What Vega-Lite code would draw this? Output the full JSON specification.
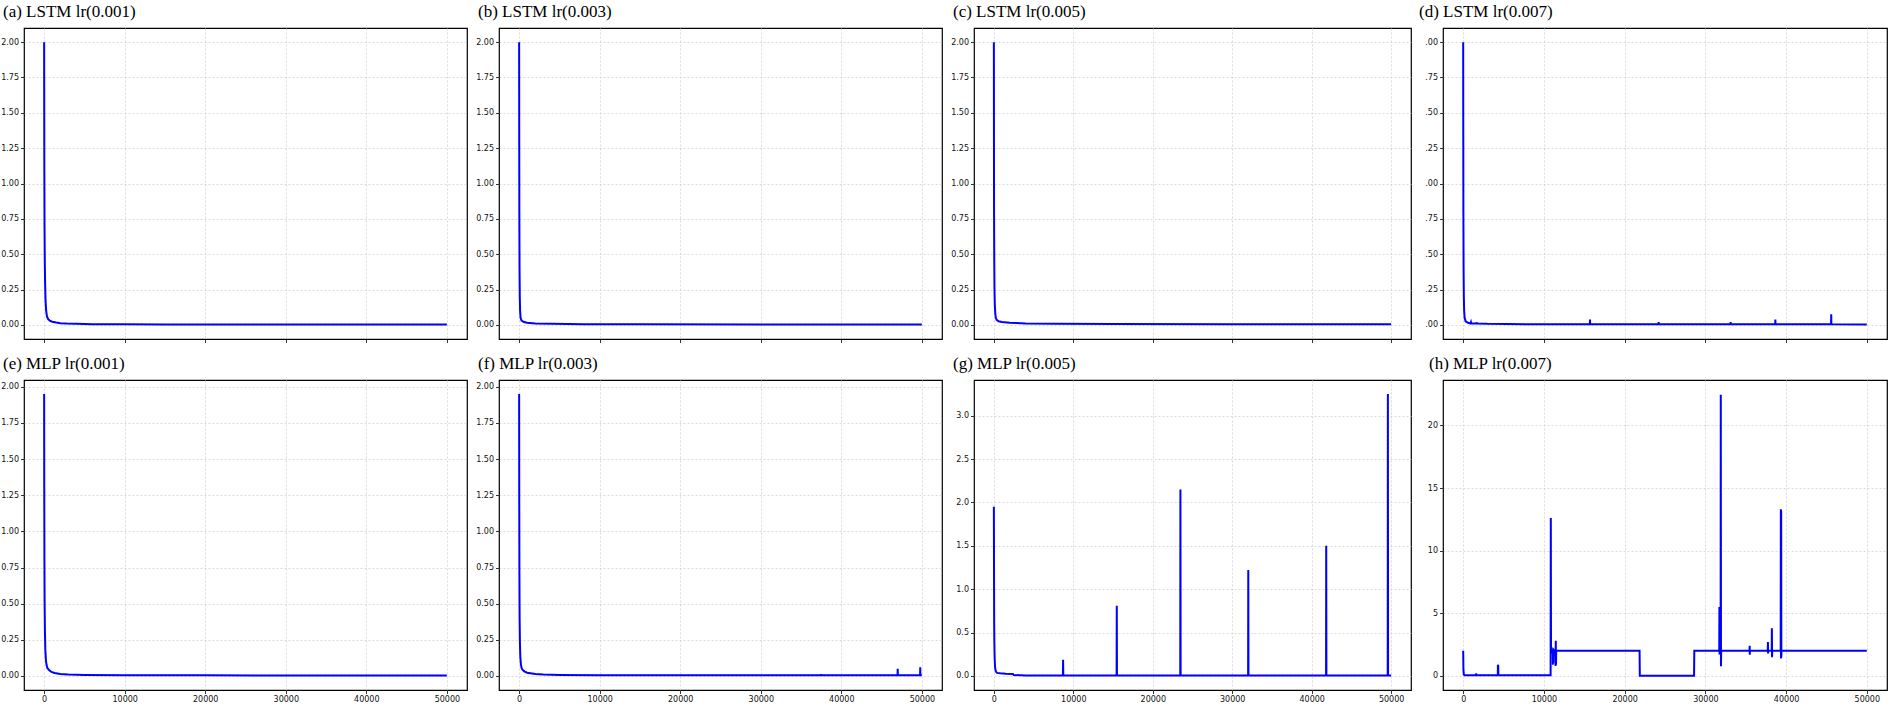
{
  "$schema": "https://vega.github.io/schema/vega-lite/v6.json",
  "background": "white",
  "padding": {"left": 0, "top": 2, "right": 0, "bottom": 0},
  "config": {
    "view": {"stroke": "#000", "strokeWidth": 1.2},
    "axis": {"domain": false, "grid": true, "gridColor": "#d0d0d0", "gridDash": [2, 2], "gridWidth": 0.8, "tickColor": "#000", "tickSize": 3.5, "tickWidth": 0.8, "labelFont": "DejaVu Sans", "labelFontSize": 8, "labelColor": "#111", "labelPadding": 2},
    "title": {"font": "Liberation Serif", "fontSize": 17, "fontWeight": "normal", "anchor": "start", "frame": "group", "color": "#000", "baseline": "alphabetic", "offset": 7, "dx": -21},
    "line": {"color": "#0000ff", "strokeWidth": 2}
  },
  "datasets": {
    "a": [{"step":0,"loss":2.0},{"step":10,"loss":1.6},{"step":25,"loss":1.1},{"step":50,"loss":0.7},{"step":80,"loss":0.45},{"step":120,"loss":0.3},{"step":170,"loss":0.18},{"step":250,"loss":0.1},{"step":350,"loss":0.06},{"step":500,"loss":0.04},{"step":700,"loss":0.03},{"step":1000,"loss":0.022},{"step":1500,"loss":0.016},{"step":2000,"loss":0.012},{"step":2800,"loss":0.009},{"step":4000,"loss":0.007},{"step":6000,"loss":0.005},{"step":10000,"loss":0.004},{"step":15000,"loss":0.003},{"step":20000,"loss":0.003},{"step":30000,"loss":0.002},{"step":40000,"loss":0.002},{"step":50000,"loss":0.002}],
    "b": [{"step":0,"loss":2.0},{"step":10,"loss":1.4},{"step":25,"loss":0.8},{"step":50,"loss":0.4},{"step":80,"loss":0.2},{"step":120,"loss":0.1},{"step":180,"loss":0.05},{"step":300,"loss":0.03},{"step":600,"loss":0.02},{"step":1000,"loss":0.015},{"step":2000,"loss":0.01},{"step":4000,"loss":0.007},{"step":8000,"loss":0.005},{"step":15000,"loss":0.004},{"step":30000,"loss":0.003},{"step":50000,"loss":0.002}],
    "c": [{"step":0,"loss":2.0},{"step":10,"loss":1.4},{"step":25,"loss":0.8},{"step":50,"loss":0.45},{"step":80,"loss":0.25},{"step":120,"loss":0.14},{"step":180,"loss":0.08},{"step":250,"loss":0.05},{"step":350,"loss":0.035},{"step":600,"loss":0.025},{"step":1000,"loss":0.02},{"step":2000,"loss":0.015},{"step":4000,"loss":0.01},{"step":8000,"loss":0.008},{"step":15000,"loss":0.006},{"step":30000,"loss":0.005},{"step":50000,"loss":0.004}],
    "d": [{"step":0,"loss":2.0},{"step":10,"loss":1.4},{"step":25,"loss":0.8},{"step":50,"loss":0.4},{"step":80,"loss":0.2},{"step":120,"loss":0.1},{"step":180,"loss":0.05},{"step":300,"loss":0.025},{"step":600,"loss":0.015},{"step":900,"loss":0.01},{"step":960,"loss":0.02},{"step":1000,"loss":0.01},{"step":1650,"loss":0.01},{"step":1670,"loss":0.018},{"step":1700,"loss":0.01},{"step":3000,"loss":0.007},{"step":8000,"loss":0.005},{"step":15690,"loss":0.004},{"step":15710,"loss":0.037},{"step":15730,"loss":0.004},{"step":24190,"loss":0.004},{"step":24210,"loss":0.02},{"step":24230,"loss":0.004},{"step":29290,"loss":0.004},{"step":29300,"loss":0.01},{"step":29310,"loss":0.004},{"step":33110,"loss":0.004},{"step":33130,"loss":0.02},{"step":33150,"loss":0.004},{"step":38650,"loss":0.004},{"step":38670,"loss":0.037},{"step":38690,"loss":0.004},{"step":45570,"loss":0.004},{"step":45590,"loss":0.075},{"step":45610,"loss":0.004},{"step":50000,"loss":0.003}],
    "e": [{"step":0,"loss":1.95},{"step":15,"loss":1.3},{"step":35,"loss":0.8},{"step":60,"loss":0.5},{"step":100,"loss":0.3},{"step":150,"loss":0.18},{"step":220,"loss":0.11},{"step":300,"loss":0.075},{"step":400,"loss":0.055},{"step":600,"loss":0.04},{"step":900,"loss":0.028},{"step":1300,"loss":0.02},{"step":2000,"loss":0.014},{"step":3000,"loss":0.01},{"step":5000,"loss":0.007},{"step":10000,"loss":0.005},{"step":20000,"loss":0.004},{"step":35000,"loss":0.003},{"step":50000,"loss":0.003}],
    "f": [{"step":0,"loss":1.95},{"step":15,"loss":1.2},{"step":35,"loss":0.7},{"step":60,"loss":0.4},{"step":100,"loss":0.22},{"step":150,"loss":0.13},{"step":220,"loss":0.08},{"step":300,"loss":0.055},{"step":450,"loss":0.04},{"step":700,"loss":0.03},{"step":1000,"loss":0.022},{"step":2000,"loss":0.014},{"step":3000,"loss":0.01},{"step":5000,"loss":0.007},{"step":10000,"loss":0.005},{"step":20000,"loss":0.004},{"step":37480,"loss":0.004},{"step":37500,"loss":0.012},{"step":37520,"loss":0.004},{"step":46980,"loss":0.004},{"step":47000,"loss":0.05},{"step":47020,"loss":0.004},{"step":49780,"loss":0.004},{"step":49800,"loss":0.06},{"step":49820,"loss":0.004},{"step":50000,"loss":0.004}],
    "g": [{"step":0,"loss":1.95},{"step":20,"loss":1.2},{"step":40,"loss":0.6},{"step":60,"loss":0.4},{"step":100,"loss":0.2},{"step":150,"loss":0.1},{"step":250,"loss":0.05},{"step":400,"loss":0.035},{"step":800,"loss":0.03},{"step":1500,"loss":0.025},{"step":2400,"loss":0.022},{"step":2500,"loss":0.01},{"step":4000,"loss":0.006},{"step":8690,"loss":0.005},{"step":8713,"loss":0.185},{"step":8740,"loss":0.005},{"step":15450,"loss":0.005},{"step":15470,"loss":0.81},{"step":15495,"loss":0.005},{"step":23460,"loss":0.005},{"step":23480,"loss":2.15},{"step":23505,"loss":0.005},{"step":32000,"loss":0.005},{"step":32020,"loss":1.22},{"step":32045,"loss":0.005},{"step":41810,"loss":0.005},{"step":41830,"loss":1.5},{"step":41855,"loss":0.005},{"step":49570,"loss":0.005},{"step":49590,"loss":3.25},{"step":49615,"loss":0.005},{"step":50000,"loss":0.005}],
    "h": [{"step":0,"loss":2.0},{"step":30,"loss":0.5},{"step":80,"loss":0.1},{"step":200,"loss":0.05},{"step":1600,"loss":0.05},{"step":1610,"loss":0.2},{"step":1620,"loss":0.05},{"step":4290,"loss":0.05},{"step":4300,"loss":0.9},{"step":4330,"loss":0.05},{"step":4340,"loss":0.85},{"step":4360,"loss":0.05},{"step":10830,"loss":0.05},{"step":10855,"loss":12.6},{"step":10880,"loss":1.8},{"step":10950,"loss":2.0},{"step":11100,"loss":1.9},{"step":11120,"loss":0.9},{"step":11140,"loss":2.2},{"step":11160,"loss":1.0},{"step":11180,"loss":2.1},{"step":11420,"loss":1.9},{"step":11440,"loss":0.8},{"step":11470,"loss":2.8},{"step":11500,"loss":0.9},{"step":11520,"loss":2.0},{"step":21850,"loss":2.0},{"step":21880,"loss":0.02},{"step":28600,"loss":0.02},{"step":28630,"loss":2.0},{"step":31720,"loss":2.0},{"step":31740,"loss":5.5},{"step":31760,"loss":1.7},{"step":31780,"loss":2.0},{"step":31890,"loss":2.0},{"step":31910,"loss":22.45},{"step":31935,"loss":0.77},{"step":31960,"loss":2.0},{"step":35470,"loss":2.0},{"step":35490,"loss":2.4},{"step":35500,"loss":1.7},{"step":35520,"loss":2.0},{"step":37730,"loss":2.0},{"step":37750,"loss":2.7},{"step":37770,"loss":1.8},{"step":37790,"loss":2.0},{"step":38220,"loss":2.0},{"step":38240,"loss":3.8},{"step":38260,"loss":1.5},{"step":38280,"loss":2.0},{"step":39330,"loss":2.0},{"step":39350,"loss":13.3},{"step":39370,"loss":1.4},{"step":39390,"loss":13.2},{"step":39410,"loss":1.5},{"step":39430,"loss":2.0},{"step":50000,"loss":2.0}]
  },
  "columns": 4,
  "spacing": {"row": 41, "column": 32},
  "bounds": "flush",
  "align": "each",
  "concat": [
    {"width": 443, "height": 311, "title": {"text": "(a) LSTM lr(0.001)"}, "data": {"name": "a"}, "mark": {"type": "line", "clip": true},
     "encoding": {"x": {"field": "step", "type": "quantitative", "title": null, "scale": {"domain": [-2500, 52500], "nice": false, "zero": false}, "axis": {"values": [0, 10000, 20000, 30000, 40000, 50000], "labels": false}},
                  "y": {"field": "loss", "type": "quantitative", "title": null, "scale": {"domain": [-0.1, 2.1], "nice": false, "zero": false}, "axis": {"values": [0, 0.25, 0.5, 0.75, 1.0, 1.25, 1.5, 1.75, 2.0], "format": ".2f"}}}},
    {"width": 443, "height": 311, "title": {"text": "(b) LSTM lr(0.003)"}, "data": {"name": "b"}, "mark": {"type": "line", "clip": true},
     "encoding": {"x": {"field": "step", "type": "quantitative", "title": null, "scale": {"domain": [-2500, 52500], "nice": false, "zero": false}, "axis": {"values": [0, 10000, 20000, 30000, 40000, 50000], "labels": false}},
                  "y": {"field": "loss", "type": "quantitative", "title": null, "scale": {"domain": [-0.1, 2.1], "nice": false, "zero": false}, "axis": {"values": [0, 0.25, 0.5, 0.75, 1.0, 1.25, 1.5, 1.75, 2.0], "format": ".2f"}}}},
    {"width": 437, "height": 311, "title": {"text": "(c) LSTM lr(0.005)"}, "data": {"name": "c"}, "mark": {"type": "line", "clip": true},
     "encoding": {"x": {"field": "step", "type": "quantitative", "title": null, "scale": {"domain": [-2500, 52500], "nice": false, "zero": false}, "axis": {"values": [0, 10000, 20000, 30000, 40000, 50000], "labels": false}},
                  "y": {"field": "loss", "type": "quantitative", "title": null, "scale": {"domain": [-0.1, 2.1], "nice": false, "zero": false}, "axis": {"values": [0, 0.25, 0.5, 0.75, 1.0, 1.25, 1.5, 1.75, 2.0], "format": ".2f"}}}},
    {"width": 444, "height": 311, "title": {"text": "(d) LSTM lr(0.007)", "dx": -24}, "data": {"name": "d"}, "mark": {"type": "line", "clip": true},
     "encoding": {"x": {"field": "step", "type": "quantitative", "title": null, "scale": {"domain": [-2500, 52500], "nice": false, "zero": false}, "axis": {"values": [0, 10000, 20000, 30000, 40000, 50000], "labels": false}},
                  "y": {"field": "loss", "type": "quantitative", "title": null, "scale": {"domain": [-0.1, 2.1], "nice": false, "zero": false}, "axis": {"values": [0, 0.25, 0.5, 0.75, 1.0, 1.25, 1.5, 1.75, 2.0], "format": ".2f", "labelExpr": "substring(datum.label, 1)"}}}},
    {"width": 443, "height": 310, "title": {"text": "(e) MLP lr(0.001)"}, "data": {"name": "e"}, "mark": {"type": "line", "clip": true},
     "encoding": {"x": {"field": "step", "type": "quantitative", "title": null, "scale": {"domain": [-2500, 52500], "nice": false, "zero": false}, "axis": {"values": [0, 10000, 20000, 30000, 40000, 50000], "format": "d"}},
                  "y": {"field": "loss", "type": "quantitative", "title": null, "scale": {"domain": [-0.0975, 2.0475], "nice": false, "zero": false}, "axis": {"values": [0, 0.25, 0.5, 0.75, 1.0, 1.25, 1.5, 1.75, 2.0], "format": ".2f"}}}},
    {"width": 443, "height": 310, "title": {"text": "(f) MLP lr(0.003)"}, "data": {"name": "f"}, "mark": {"type": "line", "clip": true},
     "encoding": {"x": {"field": "step", "type": "quantitative", "title": null, "scale": {"domain": [-2500, 52500], "nice": false, "zero": false}, "axis": {"values": [0, 10000, 20000, 30000, 40000, 50000], "format": "d"}},
                  "y": {"field": "loss", "type": "quantitative", "title": null, "scale": {"domain": [-0.0975, 2.0475], "nice": false, "zero": false}, "axis": {"values": [0, 0.25, 0.5, 0.75, 1.0, 1.25, 1.5, 1.75, 2.0], "format": ".2f"}}}},
    {"width": 437, "height": 310, "title": {"text": "(g) MLP lr(0.005)"}, "data": {"name": "g"}, "mark": {"type": "line", "clip": true},
     "encoding": {"x": {"field": "step", "type": "quantitative", "title": null, "scale": {"domain": [-2500, 52500], "nice": false, "zero": false}, "axis": {"values": [0, 10000, 20000, 30000, 40000, 50000], "format": "d"}},
                  "y": {"field": "loss", "type": "quantitative", "title": null, "scale": {"domain": [-0.1625, 3.4125], "nice": false, "zero": false}, "axis": {"values": [0, 0.5, 1.0, 1.5, 2.0, 2.5, 3.0], "format": ".1f"}}}},
    {"width": 444, "height": 310, "title": {"text": "(h) MLP lr(0.007)", "dx": -14}, "data": {"name": "h"}, "mark": {"type": "line", "clip": true},
     "encoding": {"x": {"field": "step", "type": "quantitative", "title": null, "scale": {"domain": [-2500, 52500], "nice": false, "zero": false}, "axis": {"values": [0, 10000, 20000, 30000, 40000, 50000], "format": "d"}},
                  "y": {"field": "loss", "type": "quantitative", "title": null, "scale": {"domain": [-1.125, 23.625], "nice": false, "zero": false}, "axis": {"values": [0, 5, 10, 15, 20], "format": "d"}}}}
  ]
}
